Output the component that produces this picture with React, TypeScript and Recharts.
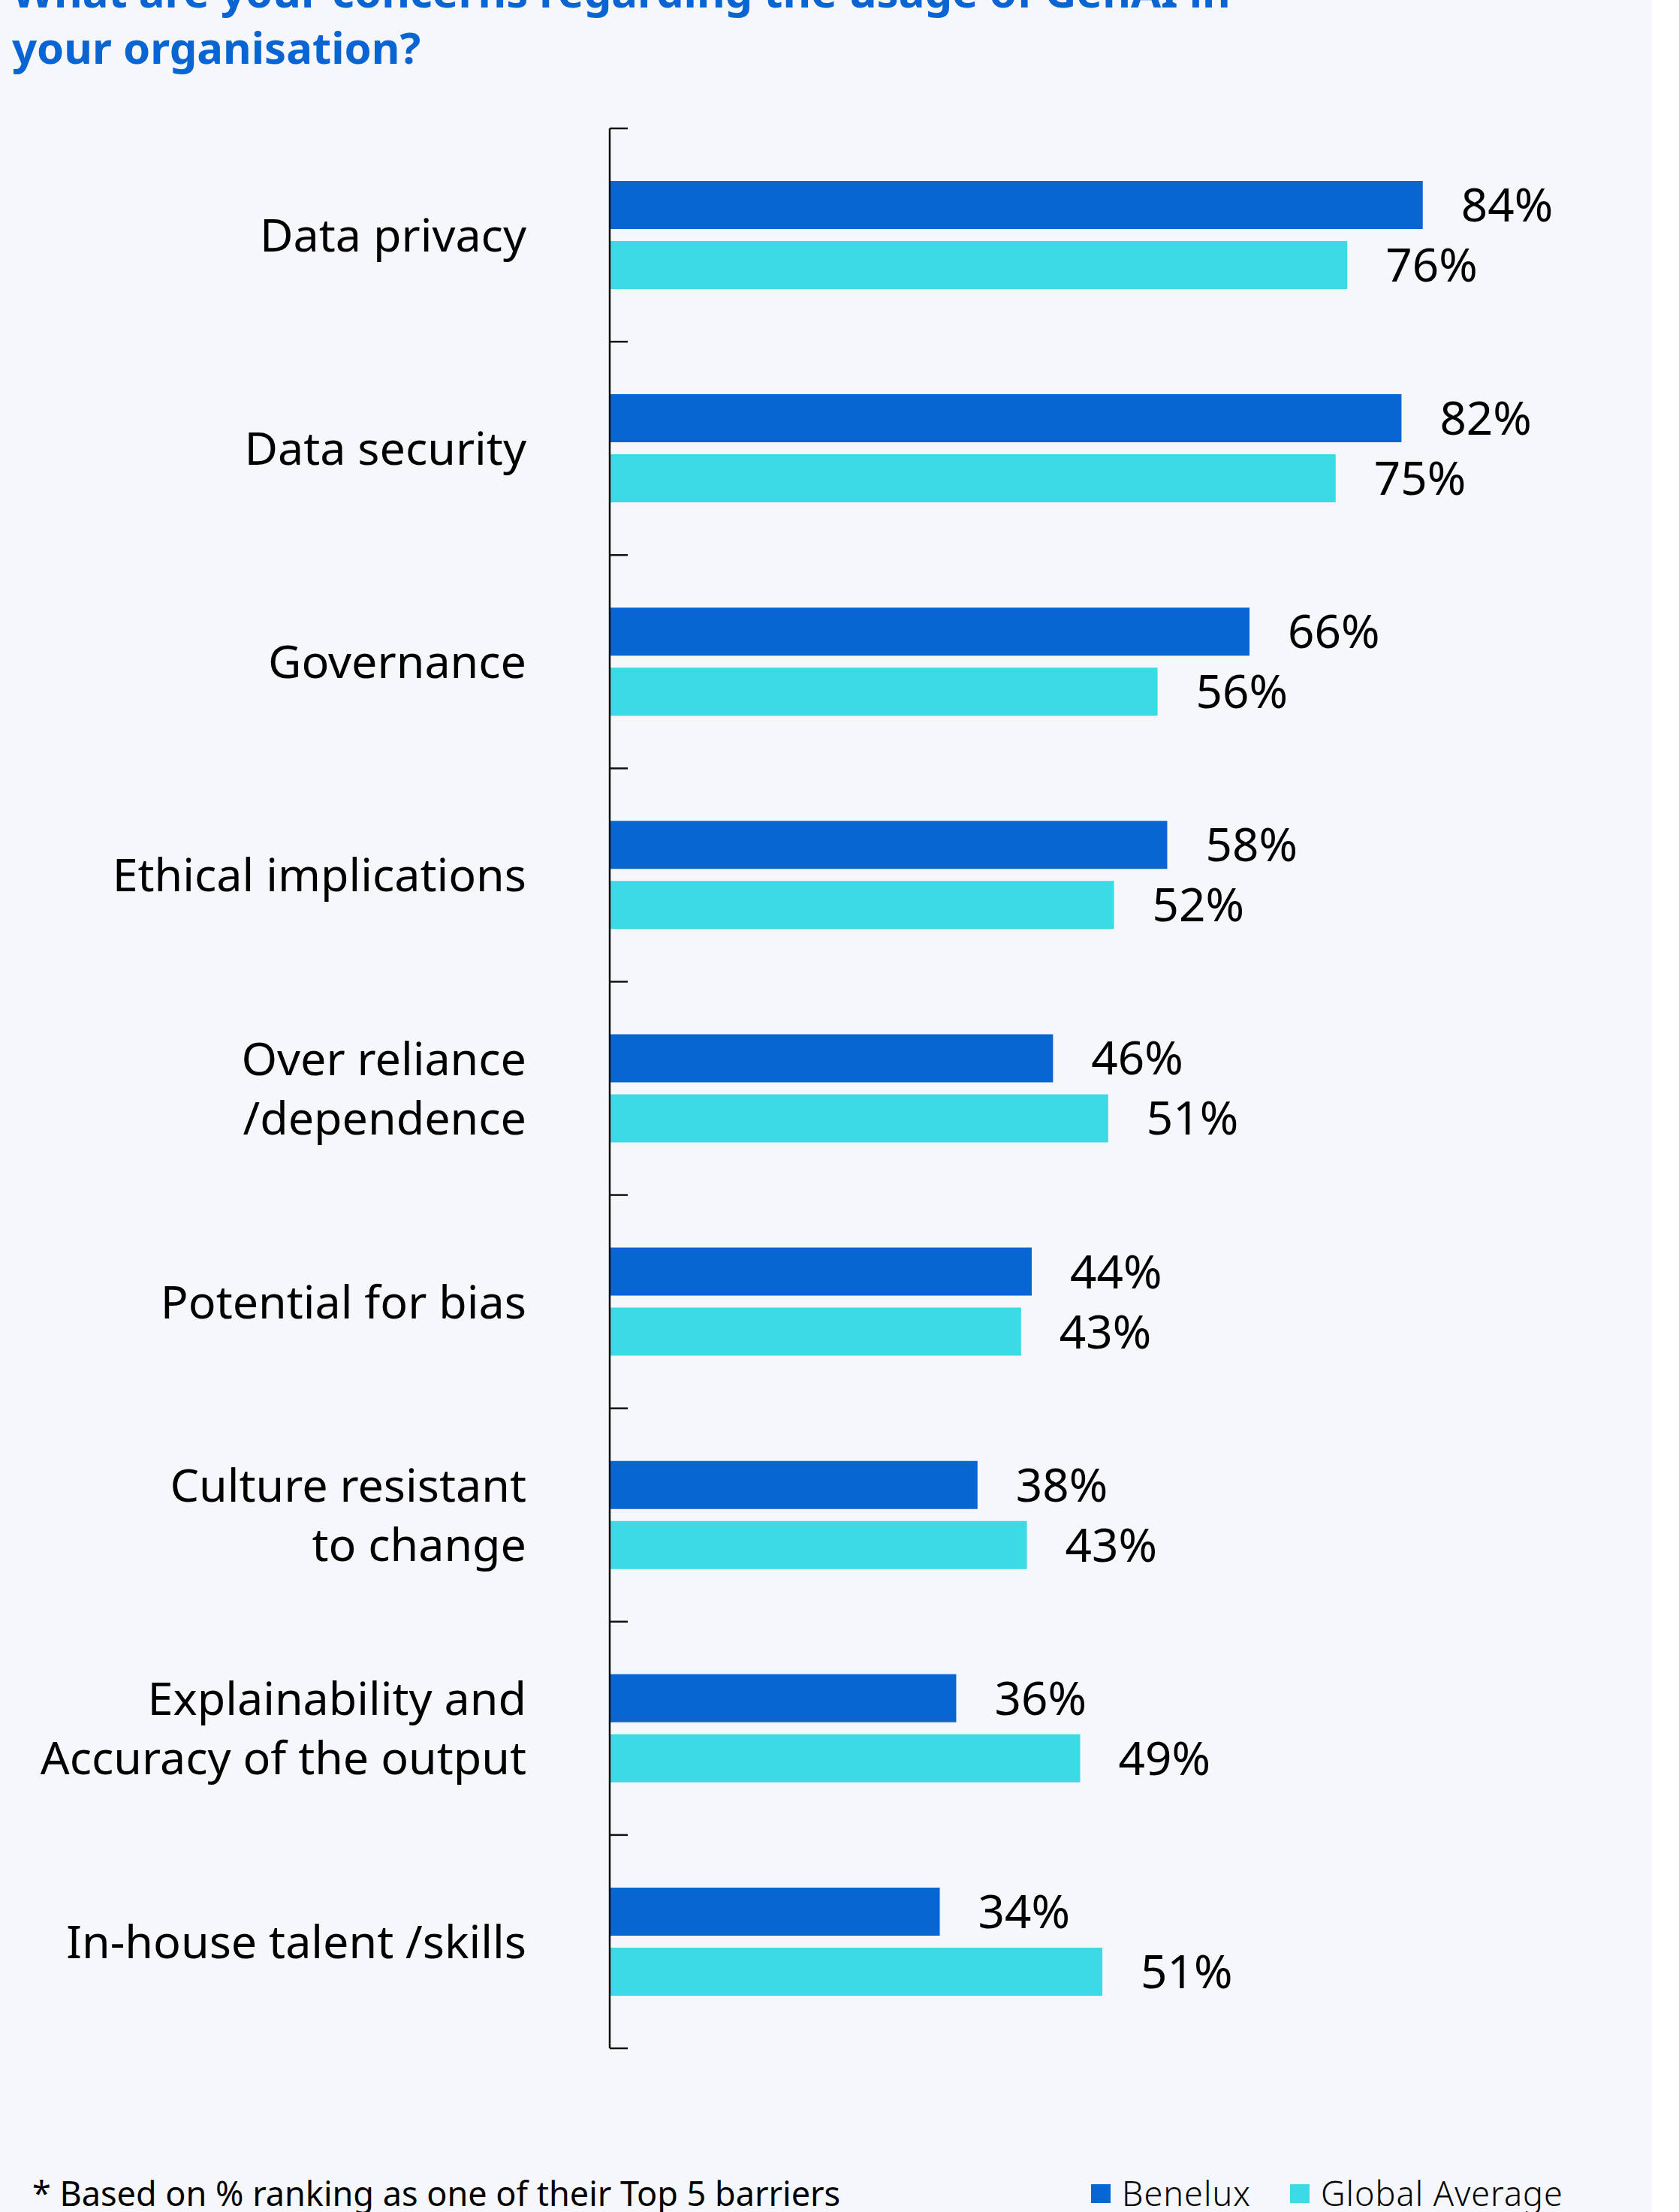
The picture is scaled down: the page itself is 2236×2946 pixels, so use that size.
import React from 'react';
import { Bar, BarChart, LabelList, XAxis, YAxis } from 'recharts';

const categories = [
  'Data privacy',
  'Data security',
  'Governance',
  'Ethical implications',
  'Over reliance\n/dependence',
  'Potential for bias',
  'Culture resistant\nto change',
  'Explainability and\nAccuracy of the output',
  'In-house talent /skills',
];
// bar lengths
const benelux = [84, 81.8, 66.1, 57.6, 45.8, 43.6, 38, 35.8, 34.1];
const globalAverage = [76.2, 75, 56.6, 52.1, 51.5, 42.5, 43.1, 48.6, 50.9];
// printed value labels
const beneluxLabels = [84, 82, 66, 58, 46, 44, 38, 36, 34];
const globalLabels = [76, 75, 56, 52, 51, 43, 43, 49, 51];

const series = [
  { key: 'benelux', name: 'Benelux', color: '#0766d1' },
  { key: 'global', name: 'Global Average', color: '#3bdae5' },
];

const data = categories.map((name, i) => ({
  name,
  benelux: benelux[i],
  global: globalAverage[i],
  beneluxLabel: beneluxLabels[i],
  globalLabel: globalLabels[i],
}));

const FONT = '"Noto Sans", "Open Sans", sans-serif';
const LABEL_GAP = 111;
const TICK_LEN = 24;
const LINE_H = 79;

const CategoryTick = (props: any) => {
  const { x, y, payload, index } = props;
  const half = payload?.offset ?? 142;
  const axisX = x + LABEL_GAP;
  const lines = String(payload.value).split('\n');
  const first = y + 22 - ((lines.length - 1) * LINE_H) / 2;
  return (
    <g>
      <line x1={axisX} x2={axisX + TICK_LEN} y1={y - half} y2={y - half} stroke="#111" strokeWidth={2.5} />
      {index === categories.length - 1 && (
        <line x1={axisX} x2={axisX + TICK_LEN} y1={y + half} y2={y + half} stroke="#111" strokeWidth={2.5} />
      )}
      <text x={x} y={first} textAnchor="end" fontSize={61} fill="#000">
        {lines.map((l, i) => (
          <tspan key={i} x={x} y={first + i * LINE_H}>
            {l}
          </tspan>
        ))}
      </text>
    </g>
  );
};

export default function App() {
  return (
    <div
      style={{
        position: 'absolute',
        left: 0,
        top: 0,
        width: 2236,
        height: 2946,
        background: '#fff',
        fontFamily: FONT,
        overflow: 'hidden',
      }}
    >
      <div style={{ position: 'absolute', left: 0, top: 0, width: 2200, height: 2946, background: '#f5f7fa' }} />
      <svg width={2200} height={120} style={{ position: 'absolute', left: 0, top: 0 }}>
        <text x={16} y={10} fontSize={58} fontWeight={700} fill="#0a64d2">
          What are your concerns regarding the usage of GenAI in
        </text>
        <text x={16} y={85} fontSize={58} fontWeight={700} fill="#0a64d2">
          your organisation?
        </text>
      </svg>
      <div style={{ position: 'absolute', left: 0, top: 0 }}>
        <BarChart
          width={2200}
          height={2946}
          data={data}
          layout="vertical"
          margin={{ top: 171, right: 99, bottom: 218, left: 0 }}
          barSize={64}
          barGap={16}
        >
          <XAxis type="number" domain={[0, 100]} hide />
          <YAxis
            type="category"
            dataKey="name"
            width={812}
            interval={0}
            tickSize={0}
            tickMargin={LABEL_GAP}
            tickLine={false}
            axisLine={{ stroke: '#111', strokeWidth: 2.5 }}
            tick={<CategoryTick />}
          />
          {series.map(s => (
            <Bar key={s.key} dataKey={s.key} name={s.name} fill={s.color} isAnimationActive={false}>
              <LabelList
                dataKey={`${s.key}Label`}
                position="right"
                offset={51}
                fontSize={62}
                fill="#000"
                formatter={(v: any) => `${v}%`}
              />
            </Bar>
          ))}
        </BarChart>
      </div>
      <div
        style={{
          position: 'absolute',
          left: 43,
          top: 2891,
          fontSize: 45,
          lineHeight: '60px',
          color: '#000',
          whiteSpace: 'nowrap',
        }}
      >
        * Based on % ranking as one of their Top 5 barriers
      </div>
      <div style={{ position: 'absolute', left: 1453, top: 2891, display: 'flex', alignItems: 'flex-end', height: 60 }}>
        {series.map((s, i) => (
          <div key={s.key} style={{ display: 'flex', alignItems: 'center', marginRight: i === 0 ? 52 : 0 }}>
            <span style={{ width: 26, height: 25, background: s.color, display: 'inline-block', marginRight: 15 }} />
            <span
              style={{
                fontSize: 45,
                fontWeight: 300,
                letterSpacing: 1,
                color: '#000',
                lineHeight: '60px',
                whiteSpace: 'nowrap',
              }}
            >
              {s.name}
            </span>
          </div>
        ))}
      </div>
    </div>
  );
}
